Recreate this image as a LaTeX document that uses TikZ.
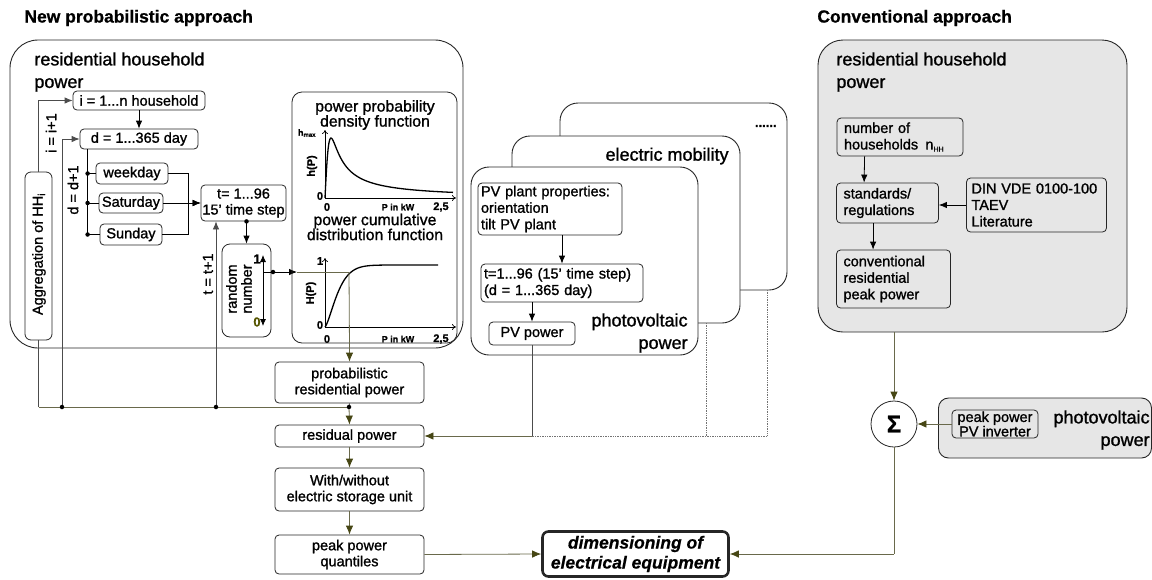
\documentclass[tikz,border=0pt]{standalone}
\usepackage{fontspec}
\setmainfont{Liberation Sans}[UprightFeatures={FakeBold=1.2},ItalicFeatures={FakeBold=1.2},BoldFeatures={FakeBold=0.8},BoldItalicFeatures={FakeBold=0.5}]
\usetikzlibrary{arrows.meta,calc}
\definecolor{flow}{RGB}{70,70,20}
\definecolor{flowline}{RGB}{105,105,75}
\definecolor{convfill}{RGB}{230,230,230}
\definecolor{zerocol}{RGB}{85,85,0}
\newcommand\szA{\fontsize{14.5}{16}\selectfont}
\newcommand\szB{\fontsize{18}{22.5}\selectfont}
\newcommand\szC{\fontsize{14.5}{16.5}\selectfont}
\newcommand\szP{\fontsize{15.8}{15}\selectfont}
\newcommand\szT{\bfseries\fontsize{11}{12}\selectfont}
\newcommand\szS{\bfseries\fontsize{9}{10}\selectfont}
\begin{document}
\begin{tikzpicture}[x=1pt,y=-1pt,line width=0.8pt,
  box/.style={draw=black!85, line width=0.8pt, rounded corners=4pt, fill=white, inner sep=0pt, align=center, font=\szA},
  cont/.style={draw=black!85, line width=0.9pt, fill=white, inner sep=0pt},
  arr/.style={-{Latex[length=8pt,width=6.5pt]}},
  farr/.style={draw=flowline, -{Latex[length=9pt,width=7.5pt,color=flow]}},
  gl/.style={draw=black!70},
  dot/.style={circle, fill=black, inner sep=0pt, minimum size=4.5pt},
  ax/.style={-{To[length=4pt,width=6pt]}, line width=0.7pt}]
\useasboundingbox (0,0) rectangle (1152,579);

% titles
\node[anchor=west, font=\bfseries\fontsize{17.5}{20}\selectfont, inner sep=0] (t1) at (24,18) {New probabilistic approach};
\node[anchor=west, font=\bfseries\fontsize{17.5}{20}\selectfont, inner sep=0] (t2) at (817,18) {Conventional approach};

% ================= left container =================
\node[cont, rounded corners=28pt, minimum width=453, minimum height=308] (leftbox) at (236.5,194) {};
\node[anchor=west, align=left, font=\szB, inner sep=0] (rhl) at (34,72) {residential household\\power};

\node[box, minimum width=132, minimum height=19] (ibox) at (139,100.5) {i = 1...n household};
\node[box, minimum width=118, minimum height=20] (dbox) at (139,139) {d = 1...365 day};
\node[box, minimum width=72, minimum height=21] (wk) at (132,173.5) {weekday};
\node[box, minimum width=64, minimum height=20] (sat) at (131,203) {Saturday};
\node[box, minimum width=62, minimum height=21] (sun) at (131,234.5) {Sunday};
\node[box, minimum width=85, minimum height=36] (tbox) at (243.5,203) {t= 1...96\\15' time step};
\node[box, rounded corners=8pt, minimum width=49, minimum height=93] (rnd) at (246.5,290.5) {};
\node[rotate=90, font=\szA, align=center, inner sep=0, execute at begin node=\setlength{\baselineskip}{15pt}] (rndt) at (239,289) {random\\number};
\node[box, rounded corners=6pt, minimum width=27, minimum height=168] (agg) at (38.5,256) {};
\node[rotate=90, font=\szA, inner sep=0] (aggt) at (39,254) {Aggregation of HH\textsubscript{i}};

\node[rotate=90, font=\szA, inner sep=0] (lbi) at (51,133) {i = i+1};
\node[rotate=90, font=\szA, inner sep=0] (lbd) at (73,190) {d = d+1};
\node[rotate=90, font=\szA, inner sep=0] (lbt) at (208,274) {t = t+1};

% loop connectors
\draw[arr, gl] (agg.north) |- (ibox.west);
\draw[arr] (ibox.south) -- (dbox.north);
\coordinate (jd) at (62,407);
\coordinate (jt) at (216,407);
\coordinate (jr) at (349,407);
\draw[arr, gl] (jd) |- (dbox.west);
\draw[arr, gl] (jt) -- (jt |- tbox.south);
\coordinate (dstem) at ($(dbox.south west)+(8,0)$);
\draw (dstem) -- (dstem |- sun.west);
\draw (dstem |- wk.west) -- (wk.west);
\draw (dstem |- sat.west) -- (sat.west);
\draw (dstem |- sun.west) -- (sun.west);
\node[dot] (dw) at (dstem |- wk.west) {};
\node[dot] (ds) at (dstem |- sat.west) {};
\node[dot] (du) at (dstem |- sun.west) {};
\coordinate (merge) at (188,203);
\draw (wk.east) -| (merge);
\draw (sun.east) -| (merge);
\draw[arr] (sat.east) -- (tbox.west);
\draw[arr] ($(tbox.west)+(-10,0)$) -- (tbox.west);
\coordinate (tr) at (tbox.south -| rnd.north);
\draw[arr] (tr) -- (rnd.north);
\node[dot] (trd) at (tr) {};

% random number arrow
\coordinate (r1) at (263,255);
\coordinate (r0) at (263,326);
\draw[{Latex[length=7pt,width=6pt]}-{Latex[length=7pt,width=6pt]}] (r1) -- (r0);
\node[font=\bfseries\fontsize{13}{13}\selectfont, inner sep=0] (one) at (257,259) {1};
\node[font=\bfseries\fontsize{13}{13}\selectfont, text=zerocol, inner sep=0] (zero) at (257,322) {0};
\coordinate (rmid) at (263,272);
\coordinate (rout) at (273,272);
\coordinate (cdfin) at (297,272);
\coordinate (hit) at (349,272);
\draw (rmid) -- (rout);
\draw[arr] (rout) -- (cdfin);
\node[dot] (routd) at (rout) {};

% ================= plots =================
\draw[draw=black!85, rounded corners=10pt] (292,92) rectangle (457,343);
\node[font=\szP, align=center, inner sep=0] (pdft) at (375,115) {power probability\\density function};
\draw[ax] (325,198) -- (325,130);
\draw[ax] (325,198) -- (456,198);
\draw[line width=1.3pt] plot[domain=0:128, samples=160, smooth] ({325+\x},{198-120*(\x/6)/(1+(\x/6)^2)});
\node[font=\szT, inner sep=0] (p0a) at (320,196) {0};
\node[font=\szT, inner sep=0] (p0b) at (327,207) {0};
\node[font=\szS, inner sep=0] (pkw1) at (398,207) {P in kW};
\node[font=\szT, inner sep=0] (p25a) at (441,207) {2,5};
\node[font=\szS, inner sep=0] (hmax) at (307,133) {h\textsubscript{max}};
\node[font=\szT, rotate=90, inner sep=0] (hp) at (312,166) {h(P)};

\node[font=\szP, align=center, inner sep=0] (cdft) at (375,227) {power cumulative\\distribution function};
\draw[ax] (325,327) -- (325,258);
\draw[ax] (325,327) -- (456,327);
\draw[line width=1.3pt] plot[domain=0.01:113, samples=120, smooth] ({325+\x},{327-62*(1-exp(-((\x/15)^1.4)))});
\node[font=\szT, inner sep=0] (c1) at (320,261) {1};
\node[font=\szT, inner sep=0] (c0a) at (320,325) {0};
\node[font=\szT, inner sep=0] (c0b) at (327,339) {0};
\node[font=\szS, inner sep=0] (pkw2) at (398,339) {P in kW};
\node[font=\szT, inner sep=0] (p25b) at (441,339) {2,5};
\node[font=\szT, rotate=90, inner sep=0] (Hp) at (311,293) {H(P)};

% ================= middle stacked boxes =================
\node[cont, rounded corners=18pt, minimum width=227, minimum height=187] (backbox) at (673.5,196.5) {};
\node[anchor=east, font=\bfseries\fontsize{13}{13}\selectfont, inner sep=0] (dots) at (777,126) {......};
\node[cont, rounded corners=18pt, minimum width=228, minimum height=187] (embox) at (626,229.5) {};
\node[anchor=east, font=\szB, inner sep=0] (eml) at (729,156) {electric mobility};
\node[cont, rounded corners=18pt, minimum width=227, minimum height=188] (pvbox) at (584.5,261) {};
\node[anchor=east, align=right, font=\szB, inner sep=0] (pvl) at (688,333) {photovoltaic\\power};

\node[box, align=left, font=\szC, text width=138, inner xsep=3pt, minimum height=52] (pvprop) at (550,209) {PV plant properties:\\orientation\\tilt PV plant};
\node[box, align=left, font=\szC, text width=156, inner xsep=3pt, minimum height=38] (pvt) at (562,283) {t=1...96 (15' time step)\\(d = 1...365 day)};
\node[box, font=\szC, minimum width=86, minimum height=23] (pvp) at (532,333.5) {PV power};
\draw[arr] (pvprop.south -| pvt.north) -- (pvt.north);
\draw[arr] (pvt.south -| pvp.north) -- (pvp.north);

% ================= bottom flow =================
\node[box, minimum width=149, minimum height=41] (prob) at (349.5,382.5) {probabilistic\\residential power};
\node[box, minimum width=149, minimum height=22] (resid) at (349.5,436) {residual power};
\node[box, minimum width=149, minimum height=43] (stor) at (349.5,489.5) {With/without\\electric storage unit};
\node[box, minimum width=149, minimum height=39] (peak) at (349.5,554.5) {peak power\\quantiles};
\node[box, line width=2.6pt, rounded corners=6pt, minimum width=186, minimum height=45, font=\bfseries\itshape\fontsize{17.5}{20}\selectfont] (dim) at (635.5,554) {dimensioning of\\electrical equipment};

\draw[flowline] (cdfin) -- (hit);
\draw[farr] (hit) -- (prob.north |- leftbox.south) -- (prob.north);
\draw[gl] (agg.south) -- (agg.south |- jr);
\draw[flowline] (agg.south |- jr) -- (jr);
\draw[gl] (prob.south) -- (jr);
\draw[farr] (jr) -- (resid.north);
\node[dot] (jdd) at (jd) {};
\node[dot] (jtd) at (jt) {};
\node[dot] (jrd) at (jr) {};
\draw[farr] (resid.south) -- (stor.north);
\draw[farr] (stor.south) -- (peak.north);
\draw[farr] (peak.east) -- (dim.west);

\coordinate (pvc) at (pvp.south |- resid.east);
\draw[gl] (pvp.south) -- (pvc);
\draw[farr] (pvc) -- (resid.east);
\coordinate (emb) at (706,323);
\coordinate (dtb) at (767,290);
\draw[densely dotted, black!55, line width=0.7pt] (dtb) |- (pvc);
\draw[densely dotted, black!55, line width=0.7pt] (emb) -- (emb |- pvc);

% ================= conventional =================
\node[cont, fill=convfill, rounded corners=25pt, minimum width=309, minimum height=292] (convbox) at (972.5,186) {};
\node[anchor=west, align=left, font=\szB, inner sep=0] (crl) at (836,72) {residential household\\power};
\node[box, fill=convfill, align=left, font=\szC, text width=112, inner xsep=7pt, minimum height=38] (nhh) at (900,137) {number of\\households \,n\textsubscript{\scriptsize HH}};
\node[box, fill=convfill, align=left, font=\szC, text width=88, inner xsep=7pt, minimum height=40] (std) at (887.5,203) {standards/\\regulations};
\node[box, fill=convfill, align=left, font=\szC, text width=130, inner xsep=5pt, minimum height=54] (din) at (1036.5,205) {DIN VDE 0100-100\\TAEV\\Literature};
\node[box, fill=convfill, align=left, font=\szC, text width=100, inner xsep=7pt, minimum height=58] (conv) at (893.5,279) {conventional\\residential\\peak power};
\draw[arr] ($(nhh.south west)+(28,0)$) -- ($(std.north west)+(28,0)$);
\draw[arr] (din.west) -- (din.west -| std.east);
\draw[arr] ($(std.south west)+(37,0)$) -- ($(conv.north west)+(37,0)$);

\node[circle, draw=black!85, fill=white, minimum size=46, inner sep=0, font=\bfseries\fontsize{24}{24}\selectfont] (sigma) at (894,424) {Σ};
\draw[farr] (convbox.south -| sigma.north) -- (sigma.north);

\node[cont, fill=convfill, rounded corners=10pt, minimum width=213, minimum height=60] (pvgray) at (1045,428) {};
\node[anchor=east, align=right, font=\szB, inner sep=0] (pvgl) at (1150,430) {photovoltaic\\power};
\node[box, fill=convfill, font=\fontsize{14.5}{13.5}\selectfont, minimum width=86, minimum height=28] (pvinv) at (995,424) {peak power\\PV inverter};
\draw[farr] (pvinv.west) -- (sigma.east);
\coordinate (sd) at (sigma.south |- dim.east);
\draw[flowline] (sigma.south) -- (sd);
\draw[farr] (sd) -- (dim.east);
\end{tikzpicture}
\end{document}
